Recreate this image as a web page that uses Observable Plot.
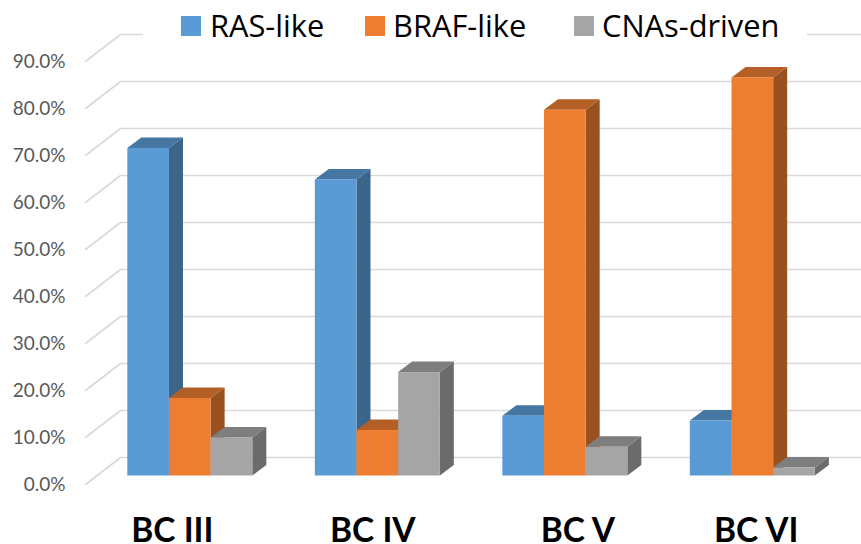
<!DOCTYPE html>
<html>
<head>
<meta charset="utf-8">
<script src="https://cdn.jsdelivr.net/npm/d3@7"></script>
<script src="https://cdn.jsdelivr.net/npm/@observablehq/plot@0.6"></script>
<style>
  html, body { margin: 0; padding: 0; background: #fff; }
  #chart { position: relative; width: 861px; height: 544px; overflow: hidden; font-family: Lato, sans-serif; }
  #chart svg { display: block; }
  #legend { position: absolute; left: 143px; top: 5px; width: 664px; height: 42px; background: #fff; }
  #legend .swatch { position: absolute; top: 11px; width: 20px; height: 20px; }
  #legend .label { position: absolute; top: 0; font-family: "Open Sans", sans-serif; font-size: 30.8px; line-height: 40px; color: #000; white-space: nowrap; }
</style>
</head>
<body>
<div id="chart"></div>
<script>
// ---- data ----
const categories = ["BC III", "BC IV", "BC V", "BC VI"];
const seriesNames = ["RAS-like", "BRAF-like", "CNAs-driven"];
const rasLike = [69.7, 63, 12.7, 11.7];
const brafLike = [16.5, 9.7, 77.8, 84.7];
const cnasDriven = [8.1, 22, 6.1, 1.7];
const tickValues = [0, 10, 20, 30, 40, 50, 60, 70, 80, 90];

// ---- styling / layout ----
const front = ["#5B9BD5", "#ED7D31", "#A5A5A5"];
const top3d = ["#4676A2", "#B45F26", "#7E7E7E"];
const side3d = ["#3B6589", "#9A5120", "#6B6B6B"];
const W = 861, H = 544;
const slot = 41.67, originX = 127.3;   // px per bar, px of first bar
const unitY = 4.7, floorY = 475.5;     // px per percent, px of 0 in the bar plane
const groupStep = 4.5;                 // bars per category step
const depthX = 14 / slot, depthY = 10.5 / unitY;
const wallFrontX = (85 - originX) / slot, wallBackX = (120 - originX) / slot, wallEndX = (W - originX) / slot;
const wallFrontY = (floorY - 484) / unitY, wallBackY = (floorY - 457) / unitY;
const labelNudge = [1.07, 1.38, 1.80, 1.58]; // category label centre, in bars from group start

const values = [rasLike, brafLike, cnasDriven];
const bars = categories.flatMap((c, i) => seriesNames.map((s, j) => ({
  id: `${c}-${s}`, j, x1: i * groupStep + j, x2: i * groupStep + j + 1, v: values[j][i]
})));

const sides = bars.flatMap(b => [
  {id: b.id, j: b.j, x: b.x2, y1: 0, y2: b.v},
  {id: b.id, j: b.j, x: b.x2 + depthX, y1: depthY, y2: b.v + depthY}
]);
const tops = bars.flatMap(b => [
  {id: b.id, j: b.j, x: b.x1, y1: b.v, y2: b.v},
  {id: b.id, j: b.j, x: b.x1 + depthX, y1: b.v, y2: b.v + depthY},
  {id: b.id, j: b.j, x: b.x2, y1: b.v, y2: b.v + depthY},
  {id: b.id, j: b.j, x: b.x2 + depthX, y1: b.v + depthY, y2: b.v + depthY}
]);
const grid = tickValues.flatMap(t => [
  {t, x: wallFrontX, y: t + wallFrontY},
  {t, x: wallBackX, y: t + wallBackY},
  {t, x: wallEndX, y: t + wallBackY}
]);

const plot = Plot.plot({
  width: W, height: H,
  marginTop: 0, marginRight: 0, marginBottom: 0, marginLeft: 0,
  style: {background: "#fff", fontFamily: "Lato, sans-serif"},
  x: {domain: [-originX / slot, (W - originX) / slot], range: [0, W], axis: null},
  y: {domain: [(floorY - H) / unitY, floorY / unitY], range: [H, 0], axis: null},
  color: {type: "identity"},
  marks: [
    Plot.line(grid, {x: "x", y: "y", z: "t", stroke: "#D9D9D9", strokeWidth: 1.6, curve: "linear"}),
    Plot.axisY(tickValues, {
      anchor: "left", label: null, tickSize: 0, tickPadding: 0, dx: 65, dy: 9,
      tickFormat: d => d.toFixed(1) + "%", fontSize: 19, fill: "#595959", textAnchor: "end"
    }),
    Plot.area(sides, {x1: "x", y1: "y1", y2: "y2", z: "id", fill: d => side3d[d.j], curve: "linear"}),
    Plot.area(tops, {x1: "x", y1: "y1", y2: "y2", z: "id", fill: d => top3d[d.j], curve: "linear"}),
    Plot.rect(bars, {x1: "x1", x2: "x2", y1: () => 0, y2: "v", fill: d => front[d.j]}),
    Plot.text(categories, {
      x: (d, i) => i * groupStep + labelNudge[i],
      frameAnchor: "bottom", dy: -13, lineAnchor: "middle",
      text: d => d, fontSize: 33.5, fontWeight: 700, fill: "#000"
    })
  ]
});

const chart = document.getElementById("chart");
chart.appendChild(plot);

// legend, laid over the top of the wall as in the reference
const legend = document.createElement("div");
legend.id = "legend";
const swatchLeft = [38, 222, 431];
const labelLeft = [67, 250, 459];
seriesNames.forEach((s, j) => {
  const sw = document.createElement("span");
  sw.className = "swatch";
  sw.style.left = swatchLeft[j] + "px";
  sw.style.background = front[j];
  const lb = document.createElement("span");
  lb.className = "label";
  lb.style.left = labelLeft[j] + "px";
  lb.textContent = s;
  legend.append(sw, lb);
});
chart.appendChild(legend);
</script>
</body>
</html>
